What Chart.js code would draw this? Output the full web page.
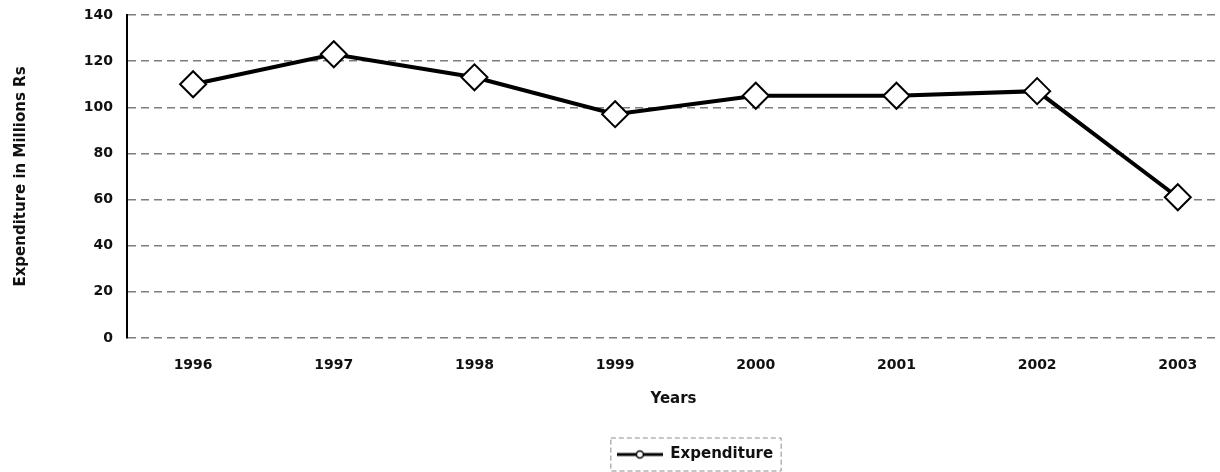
<!DOCTYPE html>
<html>
<head>
<meta charset="utf-8">
<script src="https://cdn.jsdelivr.net/npm/chart.js@4/dist/chart.umd.min.js"></script>
<style>
  html, body { margin: 0; padding: 0; background: #fff; }
  #wrap { width: 1220px; height: 472px; position: relative; }
</style>
</head>
<body>
<div id="wrap"><canvas id="expChart"></canvas></div>
<script>
// values
const years = [1996, 1997, 1998, 1999, 2000, 2001, 2002, 2003];
const expenditure = [110, 123, 113, 97, 105, 105, 107, 61];
const yTicks = [0, 20, 40, 60, 80, 100, 120, 140];

const FONT = "'DejaVu Sans', 'Liberation Sans', Arial, sans-serif";

// little "line with circle" symbol used in the legend
function legendSymbol() {
  const c = document.createElement('canvas');
  c.width = 46; c.height = 12;
  const g = c.getContext('2d');
  g.strokeStyle = '#000';
  g.lineWidth = 3;
  g.beginPath(); g.moveTo(0, 6); g.lineTo(46, 6); g.stroke();
  g.fillStyle = '#fff';
  g.lineWidth = 1.5;
  g.beginPath(); g.arc(23, 6, 3.5, 0, Math.PI * 2); g.fill(); g.stroke();
  return c;
}
const symbol = legendSymbol();

// move the legend to the right and put a thin frame round it
const legendFrame = {
  id: 'legendFrame',
  afterLayout(chart) {
    chart.legend.left += 85;
    chart.legend.right += 85;
  },
  afterDraw(chart) {
    const hb = chart.legend.legendHitBoxes[0];
    if (!hb) return;
    const ctx = chart.ctx;
    ctx.save();
    ctx.strokeStyle = '#8c8c8c';
    ctx.lineWidth = 1;
    ctx.setLineDash([5, 3]);
    ctx.strokeRect(hb.left - 6, hb.top - 9, hb.width + 14, hb.height + 18);
    ctx.restore();
  }
};

const chart = new Chart(document.getElementById('expChart'), {
  type: 'line',
  data: {
    datasets: [{
      label: 'Expenditure',
      data: years.map((y, i) => ({ x: y, y: expenditure[i] })),
      borderColor: '#000',
      borderWidth: 4,
      tension: 0,
      clip: false,
      pointStyle: 'rectRot',
      pointRadius: 13,
      pointBackgroundColor: '#fff',
      pointBorderColor: '#000',
      pointBorderWidth: 2
    }]
  },
  options: {
    responsive: true,
    maintainAspectRatio: false,
    animation: false,
    layout: { autoPadding: false, padding: { top: 15, right: 0, bottom: 0, left: 0 } },
    plugins: {
      tooltip: { enabled: false },
      legend: {
        position: 'bottom',
        labels: {
          color: '#111',
          font: { family: FONT, size: 15, weight: 'bold' },
          padding: 10,
          usePointStyle: true,
          pointStyleWidth: 46,
          generateLabels(chart) {
            const items = Chart.defaults.plugins.legend.labels.generateLabels(chart);
            items.forEach(it => { it.pointStyle = symbol; });
            return items;
          }
        }
      }
    },
    scales: {
      x: {
        type: 'linear',
        min: 1995.53,
        max: 2003.3,
        afterBuildTicks(scale) {
          scale.ticks = years.map(v => ({ value: v }));
        },
        afterFit(scale) {
          scale.height = 99;
          scale.paddingLeft = 0;
          scale.paddingRight = 0;
        },
        grid: { display: false },
        border: { display: false },
        ticks: {
          color: '#111',
          padding: 11,
          font: { family: FONT, size: 14, weight: 'bold' },
          callback: v => String(v)
        },
        title: {
          display: true,
          text: 'Years',
          color: '#111',
          font: { family: FONT, size: 15, weight: 'bold' },
          padding: { top: 0, bottom: 29 }
        }
      },
      y: {
        min: 0,
        max: 140,
        afterBuildTicks(scale) {
          scale.ticks = yTicks.map(v => ({ value: v }));
        },
        afterFit(scale) {
          scale.width = 127;
          scale.paddingTop = 0;
          scale.paddingBottom = 0;
        },
        grid: {
          color: '#7d7d7d',
          lineWidth: 1.5,
          drawTicks: false
        },
        border: { display: true, color: '#000', width: 2, dash: [8, 5] },
        ticks: {
          color: '#111',
          padding: 14,
          font: { family: FONT, size: 14, weight: 'bold' }
        },
        title: {
          display: true,
          text: 'Expenditure in Millions Rs',
          color: '#111',
          font: { family: FONT, size: 15, weight: 'bold' },
          padding: { top: 12, bottom: 0 }
        }
      }
    }
  },
  plugins: [legendFrame]
});
</script>
</body>
</html>
